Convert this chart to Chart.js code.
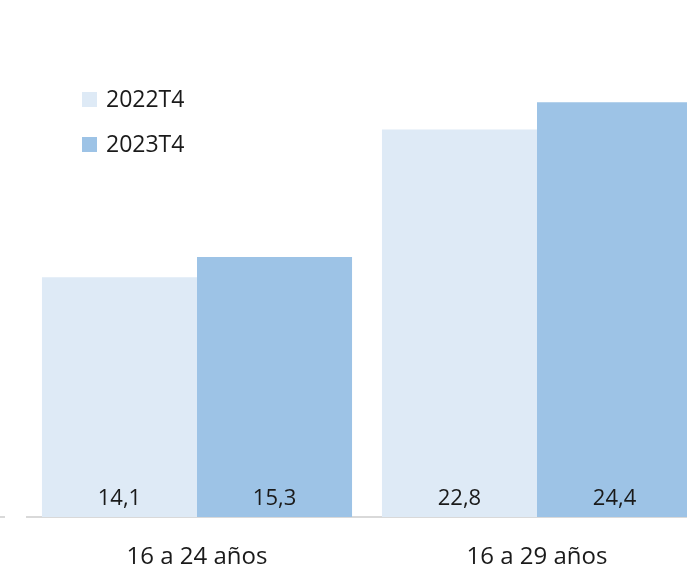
<!DOCTYPE html>
<html>
<head>
<meta charset="utf-8">
<script src="https://cdn.jsdelivr.net/npm/chart.js@4"></script>
<style>
  html, body { margin: 0; padding: 0; overflow: hidden; background: #fff; }
  #wrap { position: relative; width: 740px; height: 571px; }
</style>
</head>
<body>
<div id="wrap"><canvas id="chart"></canvas></div>
<script>
// ----------------------
// Data
// ----------------------
const categories = ["16 a 24 años", "16 a 29 años"];
const seriesNames = ["2022T4", "2023T4"];
const values2022 = [14.1, 22.8];
const values2023 = [15.3, 24.4];

const colors = ["#deeaf6", "#9dc3e6"];
const textColor = "#1a1a1a";
const fontFamily = "'Open Sans', sans-serif";

// ----------------------
// Value labels at the foot of each bar
// ----------------------
const valueLabels = {
  id: "valueLabels",
  afterDatasetsDraw(chart) {
    const ctx = chart.ctx;
    const base = chart.scales.y.getPixelForValue(0);
    ctx.save();
    ctx.font = "22px " + fontFamily;
    ctx.fillStyle = textColor;
    ctx.textAlign = "center";
    ctx.textBaseline = "middle";
    chart.data.datasets.forEach((ds, i) => {
      chart.getDatasetMeta(i).data.forEach((bar, j) => {
        ctx.fillText(ds.data[j].toFixed(1).replace(".", ","), bar.x, base - 18);
      });
    });
    // small leftover axis stub at the far left
    ctx.strokeStyle = "#d9d9d9";
    ctx.lineWidth = 2;
    ctx.beginPath();
    ctx.moveTo(0, base);
    ctx.lineTo(5, base);
    ctx.stroke();
    ctx.restore();
  }
};

// ----------------------
// Stacked legend, top left
// ----------------------
const sideLegend = {
  id: "sideLegend",
  afterDraw(chart) {
    const ctx = chart.ctx;
    ctx.save();
    ctx.font = "23px " + fontFamily;
    ctx.textBaseline = "middle";
    chart.data.datasets.forEach((ds, i) => {
      const y = 92 + i * 45;
      ctx.fillStyle = ds.backgroundColor;
      ctx.fillRect(82, y, 15, 15);
      ctx.fillStyle = textColor;
      ctx.fillText(ds.label, 106, y + 8);
    });
    ctx.restore();
  }
};

new Chart(document.getElementById("chart"), {
  type: "bar",
  data: {
    labels: categories,
    datasets: [
      { label: seriesNames[0], data: values2022, backgroundColor: colors[0] },
      { label: seriesNames[1], data: values2023, backgroundColor: colors[1] }
    ]
  },
  options: {
    responsive: true,
    maintainAspectRatio: false,
    animation: false,
    layout: { padding: { left: 27, right: 33, top: 7, bottom: 0 } },
    datasets: { bar: { barPercentage: 1, categoryPercentage: 0.912 } },
    plugins: {
      legend: { display: false },
      tooltip: { enabled: false }
    },
    scales: {
      x: {
        grid: { display: false },
        border: { display: true, color: "#d9d9d9", width: 2 },
        ticks: { color: textColor, font: { family: fontFamily, size: 24 }, padding: 18 },
        afterFit(scale) { scale.height = 54; }
      },
      y: {
        display: false,
        min: 0,
        max: 30
      }
    }
  },
  plugins: [valueLabels, sideLegend]
});
</script>
</body>
</html>
